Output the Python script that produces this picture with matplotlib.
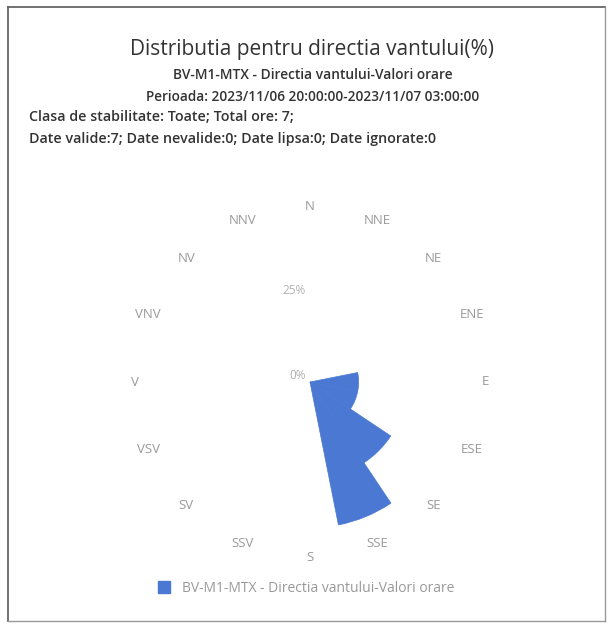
import numpy as np
import matplotlib
matplotlib.use('Agg')
import matplotlib.pyplot as plt
from matplotlib.patches import Rectangle
from matplotlib.lines import Line2D

plt.rcParams['font.family'] = ['Open Sans', 'DejaVu Sans']

# data: 7 hourly values -> percent per direction
directions = ['N', 'NNE', 'NE', 'ENE', 'E', 'ESE', 'SE', 'SSE',
              'S', 'SSV', 'SV', 'VSV', 'V', 'VNV', 'NV', 'NNV']
percent = [0, 0, 0, 0, 14.29, 14.29, 28.57, 42.86,
           0, 0, 0, 0, 0, 0, 0, 0]
radial_ticks = [0, 25]
radial_labels = ['0%', '25%']

title = 'Distributia pentru directia vantului(%)'
subtitle_lines = ['BV-M1-MTX - Directia vantului-Valori orare',
                  'Perioada: 2023/11/06 20:00:00-2023/11/07 03:00:00']
info_lines = ['Clasa de stabilitate: Toate; Total ore: 7;',
              'Date valide:7; Date nevalide:0; Date lipsa:0; Date ignorate:0']
series_name = 'BV-M1-MTX - Directia vantului-Valori orare'

W, H = 609, 625
fig = plt.figure(figsize=(W / 100, H / 100), dpi=100)


def fx(px):
    return px / W


def fy(py):
    return 1 - py / H


# frame around the chart
fig.add_artist(Line2D([fx(8), fx(8)], [fy(7), fy(621)], color='#666666', lw=1.3))
fig.add_artist(Line2D([fx(8), fx(605)], [fy(7), fy(7)], color='#666666', lw=1.3))
fig.add_artist(Line2D([fx(605), fx(605)], [fy(7), fy(621)], color='#999999', lw=1.0))
fig.add_artist(Line2D([fx(8), fx(605)], [fy(621), fy(621)], color='#999999', lw=1.0))

# texts on top
fig.text(fx(312), fy(49), title, ha='center', va='center', fontsize=15, color='#333333')
fig.text(fx(313), fy(75), subtitle_lines[0], ha='center', va='center', fontsize=9.9,
         color='#333333', fontweight='semibold')
fig.text(fx(313), fy(97), subtitle_lines[1], ha='center', va='center', fontsize=9.8,
         color='#333333', fontweight='semibold')
fig.text(fx(29), fy(117), info_lines[0], ha='left', va='center', fontsize=10.3,
         color='#333333', fontweight='semibold')
fig.text(fx(29), fy(139), info_lines[1], ha='left', va='center', fontsize=10.3,
         color='#333333', fontweight='semibold')

# polar pane, center at (310, 382), radius 170 px
cx, cy, R = 310, 382, 170
ax = fig.add_axes([fx(cx - R), fy(cy + R), 2 * R / W, 2 * R / H], projection='polar')
ax.set_theta_zero_location('N')
ax.set_theta_direction(-1)
ax.set_ylim(0, 50)

theta = np.deg2rad(np.arange(16) * 22.5)
ax.bar(theta, percent, width=np.deg2rad(22.5), color='#4a78d2',
       edgecolor='#4a78d2', linewidth=0.5, align='center')

ax.grid(False)
ax.spines['polar'].set_visible(False)
ax.set_xticks([])
ax.set_yticks([])
ax.patch.set_alpha(0)

for t, lab in zip(theta, directions):
    ax.text(t, 51.5, lab, ha='center', va='center', fontsize=9.5, color='#9a9a9a', clip_on=False)

for r, lab in zip(radial_ticks, radial_labels):
    ax.annotate(lab, xy=(0, r), xytext=(-3, 5), textcoords='offset points',
                ha='right', va='center', fontsize=8.5, color='#b0b0b0')

# legend
fig.add_artist(Rectangle((fx(158), fy(593)), 12 / W, 12 / H, color='#4a78d2'))
fig.text(fx(182), fy(588), series_name, ha='left', va='center', fontsize=10, color='#999999')

fig.savefig('out.png', dpi=100)
